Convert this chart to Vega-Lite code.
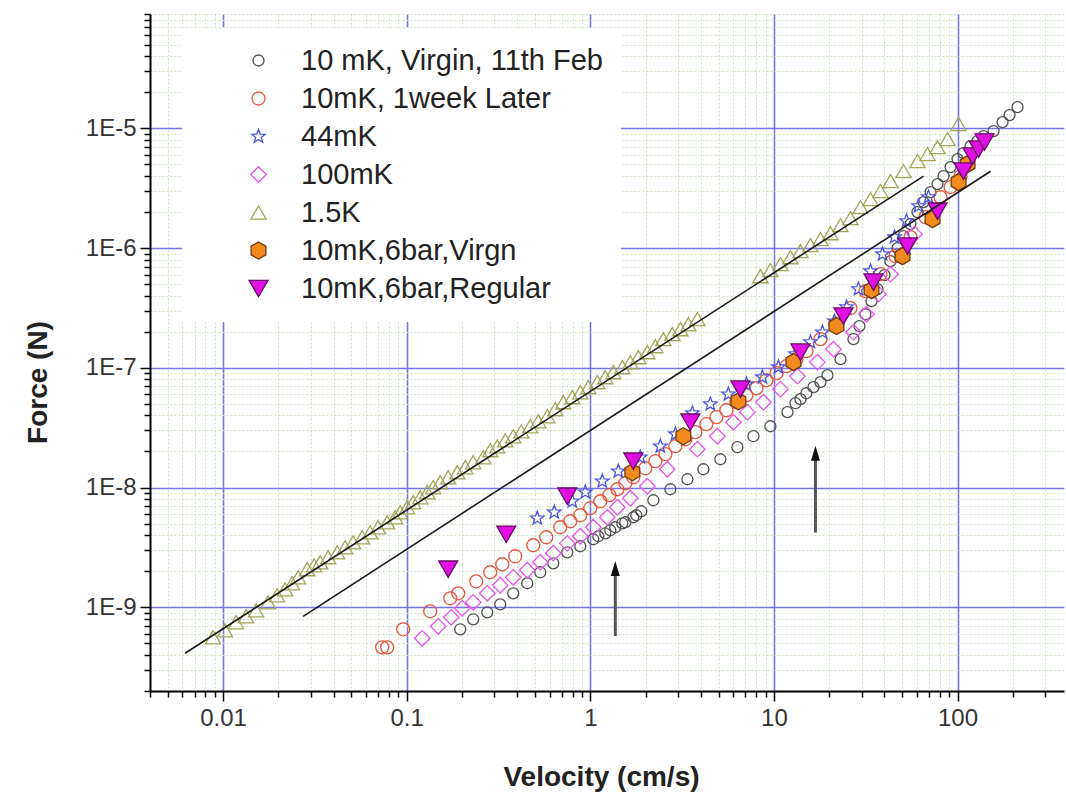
{
  "$schema": "https://vega.github.io/schema/vega-lite/v6.json",
  "width": 914,
  "height": 677,
  "autosize": {"type": "none"},
  "padding": {"left": 150, "top": 14, "right": 2, "bottom": 106},
  "background": "white",
  "config": {
    "view": {"stroke": null},
    "font": "Liberation Sans",
    "axis": {"labelFont": "Liberation Sans", "titleFont": "Liberation Sans"},
    "legend": {
      "padding": 18, "rowPadding": 8, "labelFontSize": 29, "labelColor": "#222",
      "labelFont": "Liberation Sans", "fillColor": "white", "symbolStrokeWidth": 1.3,
      "labelLimit": 600, "symbolOffset": 44, "labelOffset": 28
    }
  },
  "datasets": {
    "pts": [
      {"s": "10 mK, Virgin, 11th Feb", "v": 0.1957, "F": 6.55e-10},
      {"s": "10 mK, Virgin, 11th Feb", "v": 0.2303, "F": 7.94e-10},
      {"s": "10 mK, Virgin, 11th Feb", "v": 0.2747, "F": 9.08e-10},
      {"s": "10 mK, Virgin, 11th Feb", "v": 0.3232, "F": 1.059e-9},
      {"s": "10 mK, Virgin, 11th Feb", "v": 0.3804, "F": 1.309e-9},
      {"s": "10 mK, Virgin, 11th Feb", "v": 0.4535, "F": 1.587e-9},
      {"s": "10 mK, Virgin, 11th Feb", "v": 0.534, "F": 1.961e-9},
      {"s": "10 mK, Virgin, 11th Feb", "v": 0.6286, "F": 2.331e-9},
      {"s": "10 mK, Virgin, 11th Feb", "v": 0.7491, "F": 2.88e-9},
      {"s": "10 mK, Virgin, 11th Feb", "v": 0.8821, "F": 3.233e-9},
      {"s": "10 mK, Virgin, 11th Feb", "v": 1.038, "F": 3.7e-9},
      {"s": "10 mK, Virgin, 11th Feb", "v": 1.106, "F": 3.92e-9},
      {"s": "10 mK, Virgin, 11th Feb", "v": 1.207, "F": 4.15e-9},
      {"s": "10 mK, Virgin, 11th Feb", "v": 1.285, "F": 4.4e-9},
      {"s": "10 mK, Virgin, 11th Feb", "v": 1.368, "F": 4.66e-9},
      {"s": "10 mK, Virgin, 11th Feb", "v": 1.494, "F": 5.03e-9},
      {"s": "10 mK, Virgin, 11th Feb", "v": 1.551, "F": 5.13e-9},
      {"s": "10 mK, Virgin, 11th Feb", "v": 1.715, "F": 5.65e-9},
      {"s": "10 mK, Virgin, 11th Feb", "v": 1.781, "F": 5.87e-9},
      {"s": "10 mK, Virgin, 11th Feb", "v": 1.896, "F": 6.34e-9},
      {"s": "10 mK, Virgin, 11th Feb", "v": 2.205, "F": 7.83e-9},
      {"s": "10 mK, Virgin, 11th Feb", "v": 2.729, "F": 9.68e-9},
      {"s": "10 mK, Virgin, 11th Feb", "v": 3.379, "F": 1.173e-8},
      {"s": "10 mK, Virgin, 11th Feb", "v": 4.129, "F": 1.422e-8},
      {"s": "10 mK, Virgin, 11th Feb", "v": 5.11, "F": 1.723e-8},
      {"s": "10 mK, Virgin, 11th Feb", "v": 6.325, "F": 2.172e-8},
      {"s": "10 mK, Virgin, 11th Feb", "v": 7.733, "F": 2.683e-8},
      {"s": "10 mK, Virgin, 11th Feb", "v": 9.57, "F": 3.25e-8},
      {"s": "10 mK, Virgin, 11th Feb", "v": 11.85, "F": 4.26e-8},
      {"s": "10 mK, Virgin, 11th Feb", "v": 13.1, "F": 5.06e-8},
      {"s": "10 mK, Virgin, 11th Feb", "v": 13.95, "F": 5.47e-8},
      {"s": "10 mK, Virgin, 11th Feb", "v": 15.03, "F": 6.13e-8},
      {"s": "10 mK, Virgin, 11th Feb", "v": 16.42, "F": 6.89e-8},
      {"s": "10 mK, Virgin, 11th Feb", "v": 17.92, "F": 7.58e-8},
      {"s": "10 mK, Virgin, 11th Feb", "v": 19.57, "F": 8.68e-8},
      {"s": "10 mK, Virgin, 11th Feb", "v": 23.04, "F": 1.18e-7},
      {"s": "10 mK, Virgin, 11th Feb", "v": 27.12, "F": 1.734e-7},
      {"s": "10 mK, Virgin, 11th Feb", "v": 29.24, "F": 2.23e-7},
      {"s": "10 mK, Virgin, 11th Feb", "v": 31.5, "F": 2.8e-7},
      {"s": "10 mK, Virgin, 11th Feb", "v": 33.99, "F": 3.6e-7},
      {"s": "10 mK, Virgin, 11th Feb", "v": 36.6, "F": 4.54e-7},
      {"s": "10 mK, Virgin, 11th Feb", "v": 40.02, "F": 5.94e-7},
      {"s": "10 mK, Virgin, 11th Feb", "v": 43.1, "F": 7.77e-7},
      {"s": "10 mK, Virgin, 11th Feb", "v": 47.1, "F": 9.98e-7},
      {"s": "10 mK, Virgin, 11th Feb", "v": 50.8, "F": 1.257e-6},
      {"s": "10 mK, Virgin, 11th Feb", "v": 55.43, "F": 1.584e-6},
      {"s": "10 mK, Virgin, 11th Feb", "v": 60.5, "F": 1.995e-6},
      {"s": "10 mK, Virgin, 11th Feb", "v": 65.27, "F": 2.42e-6},
      {"s": "10 mK, Virgin, 11th Feb", "v": 71.3, "F": 2.93e-6},
      {"s": "10 mK, Virgin, 11th Feb", "v": 77.8, "F": 3.42e-6},
      {"s": "10 mK, Virgin, 11th Feb", "v": 83.9, "F": 3.99e-6},
      {"s": "10 mK, Virgin, 11th Feb", "v": 91.6, "F": 4.74e-6},
      {"s": "10 mK, Virgin, 11th Feb", "v": 100, "F": 5.53e-6},
      {"s": "10 mK, Virgin, 11th Feb", "v": 107.8, "F": 6.21e-6},
      {"s": "10 mK, Virgin, 11th Feb", "v": 117.7, "F": 7.1e-6},
      {"s": "10 mK, Virgin, 11th Feb", "v": 128.5, "F": 7.82e-6},
      {"s": "10 mK, Virgin, 11th Feb", "v": 138.6, "F": 8.61e-6},
      {"s": "10 mK, Virgin, 11th Feb", "v": 157.1, "F": 9.48e-6},
      {"s": "10 mK, Virgin, 11th Feb", "v": 175.9, "F": 1.126e-5},
      {"s": "10 mK, Virgin, 11th Feb", "v": 192, "F": 1.289e-5},
      {"s": "10 mK, Virgin, 11th Feb", "v": 212.3, "F": 1.503e-5},

      {"s": "10mK, 1week Later", "v": 0.07353, "F": 4.63e-10},
      {"s": "10mK, 1week Later", "v": 0.0783, "F": 4.63e-10},
      {"s": "10mK, 1week Later", "v": 0.0957, "F": 6.55e-10},
      {"s": "10mK, 1week Later", "v": 0.1343, "F": 9.26e-10},
      {"s": "10mK, 1week Later", "v": 0.1726, "F": 1.189e-9},
      {"s": "10mK, 1week Later", "v": 0.1908, "F": 1.309e-9},
      {"s": "10mK, 1week Later", "v": 0.2392, "F": 1.649e-9},
      {"s": "10mK, 1week Later", "v": 0.2852, "F": 1.961e-9},
      {"s": "10mK, 1week Later", "v": 0.3315, "F": 2.287e-9},
      {"s": "10mK, 1week Later", "v": 0.3902, "F": 2.668e-9},
      {"s": "10mK, 1week Later", "v": 0.4891, "F": 3.296e-9},
      {"s": "10mK, 1week Later", "v": 0.5757, "F": 3.844e-9},
      {"s": "10mK, 1week Later", "v": 0.6862, "F": 4.66e-9},
      {"s": "10mK, 1week Later", "v": 0.778, "F": 5.23e-9},
      {"s": "10mK, 1week Later", "v": 0.882, "F": 5.87e-9},
      {"s": "10mK, 1week Later", "v": 1.0, "F": 6.72e-9},
      {"s": "10mK, 1week Later", "v": 1.134, "F": 7.68e-9},
      {"s": "10mK, 1week Later", "v": 1.269, "F": 8.63e-9},
      {"s": "10mK, 1week Later", "v": 1.404, "F": 9.68e-9},
      {"s": "10mK, 1week Later", "v": 1.551, "F": 1.086e-8},
      {"s": "10mK, 1week Later", "v": 1.715, "F": 1.219e-8},
      {"s": "10mK, 1week Later", "v": 1.994, "F": 1.449e-8},
      {"s": "10mK, 1week Later", "v": 2.261, "F": 1.659e-8},
      {"s": "10mK, 1week Later", "v": 2.563, "F": 1.898e-8},
      {"s": "10mK, 1week Later", "v": 2.906, "F": 2.214e-8},
      {"s": "10mK, 1week Later", "v": 3.294, "F": 2.53e-8},
      {"s": "10mK, 1week Later", "v": 3.735, "F": 2.9e-8},
      {"s": "10mK, 1week Later", "v": 4.287, "F": 3.38e-8},
      {"s": "10mK, 1week Later", "v": 4.861, "F": 3.87e-8},
      {"s": "10mK, 1week Later", "v": 5.51, "F": 4.42e-8},
      {"s": "10mK, 1week Later", "v": 6.247, "F": 5.16e-8},
      {"s": "10mK, 1week Later", "v": 7.082, "F": 5.9e-8},
      {"s": "10mK, 1week Later", "v": 8.028, "F": 6.75e-8},
      {"s": "10mK, 1week Later", "v": 9.103, "F": 7.88e-8},
      {"s": "10mK, 1week Later", "v": 10.32, "F": 9.02e-8},
      {"s": "10mK, 1week Later", "v": 11.7, "F": 1.031e-7},
      {"s": "10mK, 1week Later", "v": 13.26, "F": 1.18e-7},
      {"s": "10mK, 1week Later", "v": 15.03, "F": 1.376e-7},
      {"s": "10mK, 1week Later", "v": 17.92, "F": 1.734e-7},
      {"s": "10mK, 1week Later", "v": 21.63, "F": 2.31e-7},
      {"s": "10mK, 1week Later", "v": 26.12, "F": 3.15e-7},
      {"s": "10mK, 1week Later", "v": 31.51, "F": 4.37e-7},
      {"s": "10mK, 1week Later", "v": 38.05, "F": 6.05e-7},
      {"s": "10mK, 1week Later", "v": 45.93, "F": 8.56e-7},
      {"s": "10mK, 1week Later", "v": 55.43, "F": 1.233e-6},
      {"s": "10mK, 1week Later", "v": 66.93, "F": 1.812e-6},
      {"s": "10mK, 1week Later", "v": 80.8, "F": 2.66e-6},
      {"s": "10mK, 1week Later", "v": 91.6, "F": 3.23e-6},
      {"s": "10mK, 1week Later", "v": 103.8, "F": 3.99e-6},

      {"s": "44mK", "v": 0.5143, "F": 5.54e-9},
      {"s": "44mK", "v": 0.6364, "F": 6.22e-9},
      {"s": "44mK", "v": 0.7979, "F": 7.68e-9},
      {"s": "44mK", "v": 0.9392, "F": 9.14e-9},
      {"s": "44mK", "v": 1.162, "F": 1.129e-8},
      {"s": "44mK", "v": 1.421, "F": 1.368e-8},
      {"s": "44mK", "v": 1.873, "F": 1.79e-8},
      {"s": "44mK", "v": 2.407, "F": 2.214e-8},
      {"s": "44mK", "v": 2.906, "F": 2.79e-8},
      {"s": "44mK", "v": 3.597, "F": 4.18e-8},
      {"s": "44mK", "v": 4.507, "F": 4.97e-8},
      {"s": "44mK", "v": 5.65, "F": 6.02e-8},
      {"s": "44mK", "v": 7.082, "F": 7.3e-8},
      {"s": "44mK", "v": 8.658, "F": 8.35e-8},
      {"s": "44mK", "v": 10.58, "F": 1.012e-7},
      {"s": "44mK", "v": 13.1, "F": 1.3e-7},
      {"s": "44mK", "v": 15.81, "F": 1.64e-7},
      {"s": "44mK", "v": 18.38, "F": 1.98e-7},
      {"s": "44mK", "v": 21.36, "F": 2.45e-7},
      {"s": "44mK", "v": 24.84, "F": 3.21e-7},
      {"s": "44mK", "v": 28.87, "F": 4.54e-7},
      {"s": "44mK", "v": 33.57, "F": 6.41e-7},
      {"s": "44mK", "v": 39.02, "F": 8.89e-7},
      {"s": "44mK", "v": 45.36, "F": 1.233e-6},
      {"s": "44mK", "v": 52.74, "F": 1.68e-6},
      {"s": "44mK", "v": 61.3, "F": 2.24e-6},
      {"s": "44mK", "v": 69.5, "F": 2.66e-6},

      {"s": "100mK", "v": 0.1215, "F": 5.51e-10},
      {"s": "100mK", "v": 0.1485, "F": 6.94e-10},
      {"s": "100mK", "v": 0.1748, "F": 8.25e-10},
      {"s": "100mK", "v": 0.2007, "F": 9.81e-10},
      {"s": "100mK", "v": 0.2303, "F": 1.1e-9},
      {"s": "100mK", "v": 0.2747, "F": 1.309e-9},
      {"s": "100mK", "v": 0.3232, "F": 1.527e-9},
      {"s": "100mK", "v": 0.3805, "F": 1.78e-9},
      {"s": "100mK", "v": 0.4537, "F": 2.04e-9},
      {"s": "100mK", "v": 0.5341, "F": 2.38e-9},
      {"s": "100mK", "v": 0.6285, "F": 2.83e-9},
      {"s": "100mK", "v": 0.7494, "F": 3.42e-9},
      {"s": "100mK", "v": 0.882, "F": 3.92e-9},
      {"s": "100mK", "v": 1.038, "F": 4.66e-9},
      {"s": "100mK", "v": 1.238, "F": 5.65e-9},
      {"s": "100mK", "v": 1.404, "F": 6.85e-9},
      {"s": "100mK", "v": 1.652, "F": 8.14e-9},
      {"s": "100mK", "v": 2.045, "F": 1.025e-8},
      {"s": "100mK", "v": 2.628, "F": 1.422e-8},
      {"s": "100mK", "v": 3.83, "F": 2.09e-8},
      {"s": "100mK", "v": 4.922, "F": 2.68e-8},
      {"s": "100mK", "v": 6.016, "F": 3.51e-8},
      {"s": "100mK", "v": 7.172, "F": 4.26e-8},
      {"s": "100mK", "v": 8.767, "F": 5.16e-8},
      {"s": "100mK", "v": 10.85, "F": 6.63e-8},
      {"s": "100mK", "v": 13.43, "F": 8.51e-8},
      {"s": "100mK", "v": 17.26, "F": 1.114e-7},
      {"s": "100mK", "v": 21.1, "F": 1.43e-7},
      {"s": "100mK", "v": 27.12, "F": 1.983e-7},
      {"s": "100mK", "v": 31.92, "F": 2.8e-7},
      {"s": "100mK", "v": 37.11, "F": 4.12e-7},
      {"s": "100mK", "v": 43.14, "F": 6.05e-7},
      {"s": "100mK", "v": 50.14, "F": 8.89e-7},
      {"s": "100mK", "v": 58.31, "F": 1.306e-6},

      {"s": "1.5K", "v": 0.00882, "F": 5.62e-10},
      {"s": "1.5K", "v": 0.01025, "F": 6.42e-10},
      {"s": "1.5K", "v": 0.01177, "F": 7.5e-10},
      {"s": "1.5K", "v": 0.01335, "F": 8.41e-10},
      {"s": "1.5K", "v": 0.01513, "F": 9.44e-10},
      {"s": "1.5K", "v": 0.01759, "F": 1.101e-9},
      {"s": "1.5K", "v": 0.01969, "F": 1.259e-9},
      {"s": "1.5K", "v": 0.02177, "F": 1.414e-9},
      {"s": "1.5K", "v": 0.02377, "F": 1.587e-9},
      {"s": "1.5K", "v": 0.02563, "F": 1.781e-9},
      {"s": "1.5K", "v": 0.0287, "F": 2.08e-9},
      {"s": "1.5K", "v": 0.03133, "F": 2.24e-9},
      {"s": "1.5K", "v": 0.03378, "F": 2.377e-9},
      {"s": "1.5K", "v": 0.03735, "F": 2.62e-9},
      {"s": "1.5K", "v": 0.04181, "F": 2.88e-9},
      {"s": "1.5K", "v": 0.04623, "F": 3.17e-9},
      {"s": "1.5K", "v": 0.0511, "F": 3.49e-9},
      {"s": "1.5K", "v": 0.05721, "F": 3.844e-9},
      {"s": "1.5K", "v": 0.06325, "F": 4.23e-9},
      {"s": "1.5K", "v": 0.06993, "F": 4.66e-9},
      {"s": "1.5K", "v": 0.0783, "F": 5.13e-9},
      {"s": "1.5K", "v": 0.08658, "F": 5.65e-9},
      {"s": "1.5K", "v": 0.09217, "F": 6.22e-9},
      {"s": "1.5K", "v": 0.1006, "F": 6.85e-9},
      {"s": "1.5K", "v": 0.1085, "F": 7.54e-9},
      {"s": "1.5K", "v": 0.1185, "F": 8.3e-9},
      {"s": "1.5K", "v": 0.1293, "F": 9.14e-9},
      {"s": "1.5K", "v": 0.1394, "F": 1.006e-8},
      {"s": "1.5K", "v": 0.1522, "F": 1.107e-8},
      {"s": "1.5K", "v": 0.1683, "F": 1.219e-8},
      {"s": "1.5K", "v": 0.1885, "F": 1.342e-8},
      {"s": "1.5K", "v": 0.2084, "F": 1.478e-8},
      {"s": "1.5K", "v": 0.2303, "F": 1.627e-8},
      {"s": "1.5K", "v": 0.2612, "F": 1.791e-8},
      {"s": "1.5K", "v": 0.2852, "F": 2.05e-8},
      {"s": "1.5K", "v": 0.3113, "F": 2.21e-8},
      {"s": "1.5K", "v": 0.3442, "F": 2.48e-8},
      {"s": "1.5K", "v": 0.3805, "F": 2.68e-8},
      {"s": "1.5K", "v": 0.4207, "F": 2.95e-8},
      {"s": "1.5K", "v": 0.471, "F": 3.25e-8},
      {"s": "1.5K", "v": 0.5208, "F": 3.58e-8},
      {"s": "1.5K", "v": 0.5831, "F": 3.94e-8},
      {"s": "1.5K", "v": 0.6445, "F": 4.51e-8},
      {"s": "1.5K", "v": 0.7127, "F": 5.16e-8},
      {"s": "1.5K", "v": 0.7979, "F": 5.68e-8},
      {"s": "1.5K", "v": 0.882, "F": 6.25e-8},
      {"s": "1.5K", "v": 0.9752, "F": 6.89e-8},
      {"s": "1.5K", "v": 1.092, "F": 7.58e-8},
      {"s": "1.5K", "v": 1.207, "F": 8.35e-8},
      {"s": "1.5K", "v": 1.335, "F": 9.19e-8},
      {"s": "1.5K", "v": 1.494, "F": 1.012e-7},
      {"s": "1.5K", "v": 1.652, "F": 1.114e-7},
      {"s": "1.5K", "v": 1.827, "F": 1.226e-7},
      {"s": "1.5K", "v": 2.045, "F": 1.35e-7},
      {"s": "1.5K", "v": 2.261, "F": 1.515e-7},
      {"s": "1.5K", "v": 2.5, "F": 1.734e-7},
      {"s": "1.5K", "v": 2.798, "F": 1.91e-7},
      {"s": "1.5K", "v": 3.094, "F": 2.1e-7},
      {"s": "1.5K", "v": 3.421, "F": 2.31e-7},
      {"s": "1.5K", "v": 3.83, "F": 2.55e-7},
      {"s": "1.5K", "v": 8.441, "F": 5.82e-7},
      {"s": "1.5K", "v": 9.57, "F": 6.54e-7},
      {"s": "1.5K", "v": 10.85, "F": 7.34e-7},
      {"s": "1.5K", "v": 12.3, "F": 8.39e-7},
      {"s": "1.5K", "v": 13.94, "F": 9.42e-7},
      {"s": "1.5K", "v": 15.81, "F": 1.057e-6},
      {"s": "1.5K", "v": 17.92, "F": 1.187e-6},
      {"s": "1.5K", "v": 20.32, "F": 1.331e-6},
      {"s": "1.5K", "v": 23.04, "F": 1.553e-6},
      {"s": "1.5K", "v": 26.12, "F": 1.777e-6},
      {"s": "1.5K", "v": 29.61, "F": 2.2e-6},
      {"s": "1.5K", "v": 33.57, "F": 2.56e-6},
      {"s": "1.5K", "v": 38.05, "F": 2.99e-6},
      {"s": "1.5K", "v": 43.14, "F": 3.62e-6},
      {"s": "1.5K", "v": 50.78, "F": 4.39e-6},
      {"s": "1.5K", "v": 60.53, "F": 5.32e-6},
      {"s": "1.5K", "v": 68.63, "F": 6.09e-6},
      {"s": "1.5K", "v": 77.8, "F": 6.97e-6},
      {"s": "1.5K", "v": 88.2, "F": 8.12e-6},
      {"s": "1.5K", "v": 101.3, "F": 1.084e-5},

      {"s": "10mK,6bar,Virgn", "v": 1.694, "F": 1.342e-8},
      {"s": "10mK,6bar,Virgn", "v": 3.212, "F": 2.683e-8},
      {"s": "10mK,6bar,Virgn", "v": 6.405, "F": 5.26e-8},
      {"s": "10mK,6bar,Virgn", "v": 12.77, "F": 1.114e-7},
      {"s": "10mK,6bar,Virgn", "v": 21.9, "F": 2.23e-7},
      {"s": "10mK,6bar,Virgn", "v": 33.99, "F": 4.45e-7},
      {"s": "10mK,6bar,Virgn", "v": 50.14, "F": 8.56e-7},
      {"s": "10mK,6bar,Virgn", "v": 73.07, "F": 1.743e-6},
      {"s": "10mK,6bar,Virgn", "v": 101.3, "F": 3.55e-6},
      {"s": "10mK,6bar,Virgn", "v": 113.4, "F": 5.02e-6},

      {"s": "10mK,6bar,Regular", "v": 0.1683, "F": 2.08e-9},
      {"s": "10mK,6bar,Regular", "v": 0.3485, "F": 4.07e-9},
      {"s": "10mK,6bar,Regular", "v": 0.7494, "F": 8.46e-9},
      {"s": "10mK,6bar,Regular", "v": 1.715, "F": 1.659e-8},
      {"s": "10mK,6bar,Regular", "v": 3.507, "F": 3.51e-8},
      {"s": "10mK,6bar,Regular", "v": 6.569, "F": 6.63e-8},
      {"s": "10mK,6bar,Regular", "v": 13.94, "F": 1.35e-7},
      {"s": "10mK,6bar,Regular", "v": 23.92, "F": 2.7e-7},
      {"s": "10mK,6bar,Regular", "v": 34.85, "F": 5.19e-7},
      {"s": "10mK,6bar,Regular", "v": 53.41, "F": 1.037e-6},
      {"s": "10mK,6bar,Regular", "v": 77.8, "F": 2.03e-6},
      {"s": "10mK,6bar,Regular", "v": 107.8, "F": 4.39e-6},
      {"s": "10mK,6bar,Regular", "v": 120.7, "F": 5.86e-6},
      {"s": "10mK,6bar,Regular", "v": 130.2, "F": 6.7e-6},
      {"s": "10mK,6bar,Regular", "v": 140.3, "F": 7.67e-6}
    ],
    "fits": [
      {"line": "a", "v": 0.00621, "F": 4.13e-10},
      {"line": "a", "v": 65.3, "F": 3.99e-6},
      {"line": "b", "v": 0.0273, "F": 8.41e-10},
      {"line": "b", "v": 151.4, "F": 4.38e-6}
    ],
    "arrows": [
      {"v": 1.368, "F": 5.75e-10, "F2": 2.11e-9},
      {"v": 16.83, "F": 4.21e-9, "F2": 1.93e-8}
    ]
  },
  "encoding": {
    "x": {
      "field": "v", "type": "quantitative",
      "scale": {"type": "log", "domain": [0.004, 380], "nice": false},
      "axis": {
        "title": "Velocity (cm/s)",
        "values": [0.004,0.005,0.006,0.007,0.008,0.009,0.01,0.02,0.03,0.04,0.05,0.06,0.07,0.08,0.09,0.1,0.2,0.3,0.4,0.5,0.6,0.7,0.8,0.9,1,2,3,4,5,6,7,8,9,10,20,30,40,50,60,70,80,90,100,200,300],
        "labelExpr": "abs(log(datum.value)/LN10 - round(log(datum.value)/LN10)) < 0.01 ? format(datum.value, '~g') : ''",
        "labelOverlap": false, "labelFlush": false,
        "labelFontSize": 24, "labelColor": "#333", "labelPadding": 5,
        "grid": true,
        "gridColor": {"condition": {"test": "abs(log(datum.value)/LN10 - round(log(datum.value)/LN10)) < 0.01", "value": "#7474e4"}, "value": "#c9e3c2"},
        "gridDash": {"condition": {"test": "abs(log(datum.value)/LN10 - round(log(datum.value)/LN10)) < 0.01", "value": [1, 0]}, "value": [2, 2]},
        "gridWidth": {"condition": {"test": "abs(log(datum.value)/LN10 - round(log(datum.value)/LN10)) < 0.01", "value": 1.6}, "value": 1},
        "tickSize": {"condition": {"test": "abs(log(datum.value)/LN10 - round(log(datum.value)/LN10)) < 0.01", "value": 10}, "value": 6},
        "tickColor": "#000", "tickWidth": 1.5,
        "domainColor": "#000", "domainWidth": 2,
        "titleFontSize": 28, "titleFontWeight": "bold", "titleColor": "#222",
        "titleX": 451, "titleY": 94, "titleBaseline": "alphabetic", "titleAlign": "center"
      }
    },
    "y": {
      "field": "F", "type": "quantitative",
      "scale": {"type": "log", "domain": [2e-10, 9e-5], "nice": false},
      "axis": {
        "title": "Force (N)",
        "values": [2e-10,3e-10,4e-10,5e-10,6e-10,7e-10,8e-10,9e-10,1e-9,2e-9,3e-9,4e-9,5e-9,6e-9,7e-9,8e-9,9e-9,1e-8,2e-8,3e-8,4e-8,5e-8,6e-8,7e-8,8e-8,9e-8,1e-7,2e-7,3e-7,4e-7,5e-7,6e-7,7e-7,8e-7,9e-7,1e-6,2e-6,3e-6,4e-6,5e-6,6e-6,7e-6,8e-6,9e-6,1e-5,2e-5,3e-5,4e-5,5e-5,6e-5,7e-5,8e-5,9e-5],
        "labelExpr": "abs(log(datum.value)/LN10 - round(log(datum.value)/LN10)) < 0.01 ? '1E' + round(log(datum.value)/LN10) : ''",
        "labelOverlap": false, "labelFlush": false,
        "labelFontSize": 24, "labelColor": "#333", "labelPadding": 4,
        "grid": true,
        "gridColor": {"condition": {"test": "abs(log(datum.value)/LN10 - round(log(datum.value)/LN10)) < 0.01", "value": "#7474e4"}, "value": "#c9e3c2"},
        "gridDash": {"condition": {"test": "abs(log(datum.value)/LN10 - round(log(datum.value)/LN10)) < 0.01", "value": [1, 0]}, "value": [2, 2]},
        "gridWidth": {"condition": {"test": "abs(log(datum.value)/LN10 - round(log(datum.value)/LN10)) < 0.01", "value": 1.6}, "value": 1},
        "tickSize": {"condition": {"test": "abs(log(datum.value)/LN10 - round(log(datum.value)/LN10)) < 0.01", "value": 10}, "value": 6},
        "tickColor": "#000", "tickWidth": 1.5,
        "domainColor": "#000", "domainWidth": 2,
        "titleFontSize": 28, "titleFontWeight": "bold", "titleColor": "#222",
        "titleX": -112, "titleY": 368, "titleAngle": 270, "titleAlign": "center", "titleBaseline": "middle"
      }
    }
  },
  "layer": [
    {
      "data": {"name": "pts"},
      "mark": {"type": "point", "strokeWidth": 1.3, "opacity": 1},
      "encoding": {
        "shape": {
          "field": "s", "type": "nominal", "title": null,
          "scale": {
            "domain": ["10 mK, Virgin, 11th Feb", "10mK, 1week Later", "44mK", "100mK", "1.5K", "10mK,6bar,Virgn", "10mK,6bar,Regular"],
            "range": ["circle", "circle", "M0,-1L0.247,-0.34L0.951,-0.309L0.399,0.13L0.588,0.809L0,0.42L-0.588,0.809L-0.399,0.13L-0.951,-0.309L-0.247,-0.34Z", "diamond", "triangle-up", "M0,-1L0.866,-0.5L0.866,0.5L0,1L-0.866,0.5L-0.866,-0.5Z", "triangle-down"]
          },
          "legend": {"title": null, "orient": "none", "legendX": 32, "legendY": 14}
        },
        "stroke": {
          "field": "s", "type": "nominal", "title": null,
          "scale": {
            "domain": ["10 mK, Virgin, 11th Feb", "10mK, 1week Later", "44mK", "100mK", "1.5K", "10mK,6bar,Virgn", "10mK,6bar,Regular"],
            "range": ["#505050", "#e8553f", "#4a55dd", "#e455ea", "#a3a35a", "#6e3a10", "#6a0a6a"]
          },
          "legend": {"title": null, "orient": "none", "legendX": 32, "legendY": 14}
        },
        "fill": {
          "field": "s", "type": "nominal", "title": null,
          "scale": {
            "domain": ["10 mK, Virgin, 11th Feb", "10mK, 1week Later", "44mK", "100mK", "1.5K", "10mK,6bar,Virgn", "10mK,6bar,Regular"],
            "range": ["transparent", "transparent", "transparent", "transparent", "transparent", "#f28a1e", "#e010e0"]
          },
          "legend": {"title": null, "orient": "none", "legendX": 32, "legendY": 14}
        },
        "size": {
          "field": "s", "type": "nominal", "title": null,
          "scale": {
            "type": "ordinal",
            "domain": ["10 mK, Virgin, 11th Feb", "10mK, 1week Later", "44mK", "100mK", "1.5K", "10mK,6bar,Virgn", "10mK,6bar,Regular"],
            "range": [121, 169, 200, 240, 230, 290, 360]
          },
          "legend": {"title": null, "orient": "none", "legendX": 32, "legendY": 14}
        }
      }
    },
    {
      "data": {"name": "fits"},
      "mark": {"type": "line", "color": "#1a1a1a", "strokeWidth": 1.6},
      "encoding": {
        "detail": {"field": "line", "type": "nominal"}
      }
    },
    {
      "data": {"name": "arrows"},
      "mark": {"type": "rule", "color": "#555555", "strokeWidth": 3},
      "encoding": {
        "y2": {"field": "F2"}
      }
    },
    {
      "data": {"name": "arrows"},
      "mark": {"type": "point", "shape": "M0,-1L0.6,1L-0.6,1Z", "size": 225, "filled": true, "color": "#111111", "opacity": 1},
      "encoding": {
        "y": {"field": "F2", "type": "quantitative"}
      }
    }
  ]
}
